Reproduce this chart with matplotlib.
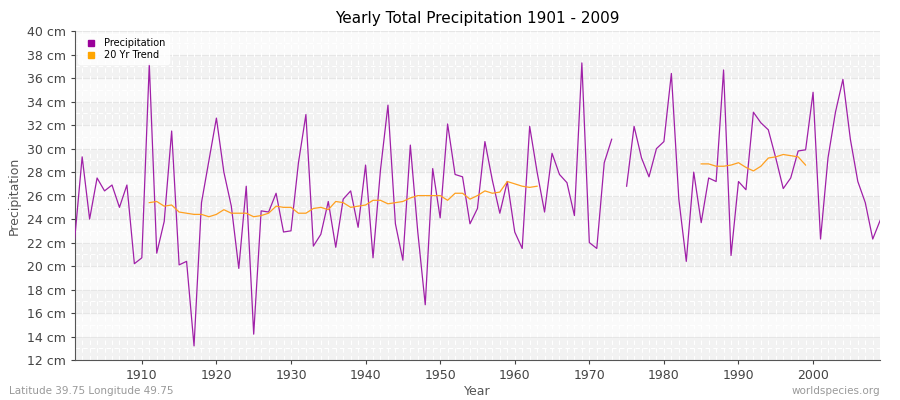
import numpy as np
import matplotlib.pyplot as plt

years = list(range(1901, 2010))
precip = [22.3, 29.3, 24.0, 27.5, 26.4, 26.9, 25.0, 26.9, 20.2, 20.7,
          37.2, 21.1, 23.8, 31.5, 20.1, 20.4, 13.2, 25.4, 29.0, 32.6,
          28.0, 25.1, 19.8, 26.8, 14.2, 24.7, 24.6, 26.2, 22.9, 23.0,
          28.8, 32.9, 21.7, 22.7, 25.5, 21.6, 25.7, 26.4, 23.3, 28.6,
          20.7, 28.2, 33.7, 23.6, 20.5, 30.3, 22.9, 16.7, 28.3, 24.1,
          32.1, 27.8, 27.6, 23.6, 24.9, 30.6, 27.3, 24.5, 27.2, 22.9,
          21.5, 31.9, 28.0, 24.6, 29.6, 27.8, 27.1, 24.3, 37.3, 22.0,
          21.5, 28.8, 30.8, None, 26.8, 31.9, 29.2, 27.6, 30.0, 30.6,
          36.4, 25.7, 20.4, 28.0, 23.7, 27.5, 27.2, 36.7, 20.9, 27.2,
          26.5, 33.1, 32.2, 31.6, 29.2, 26.6, 27.5, 29.8, 29.9, 34.8,
          22.3, 29.2, 33.1, 35.9, 30.8, 27.2, 25.4, 22.3, 23.9]
trend1_years = list(range(1911, 1964))
trend1 = [25.4, 25.5, 25.1, 25.2, 24.6, 24.5, 24.4, 24.4, 24.2, 24.4,
          24.8, 24.5, 24.5, 24.5, 24.2, 24.3, 24.5, 25.1, 25.0, 25.0,
          24.5, 24.5, 24.9, 25.0, 24.8, 25.5, 25.4, 25.0, 25.1, 25.2,
          25.6, 25.6, 25.3, 25.4, 25.5, 25.8, 26.0, 26.0, 26.0, 26.0,
          25.6, 26.2, 26.2, 25.7, 26.0, 26.4, 26.2, 26.3, 27.2, 27.0,
          26.8, 26.7, 26.8]
trend2_years = list(range(1985, 2000))
trend2 = [28.7, 28.7, 28.5, 28.5, 28.6, 28.8, 28.4, 28.1, 28.5, 29.2,
          29.3, 29.5, 29.4, 29.3, 28.6]

p = np.array([np.nan if v is None else v for v in precip])

fig, ax = plt.subplots(figsize=(9, 4), dpi=100)
fig.subplots_adjust(left=0.083, right=0.978, top=0.922, bottom=0.1)
for y0 in range(12, 40, 4):
    ax.axhspan(y0, y0 + 2, color="#f2f2f2", zorder=0)
    ax.axhspan(y0 + 2, y0 + 4, color="#fafafa", zorder=0)
for y in range(12, 41):
    ax.axhline(y, color="#e6e6e6" if y % 2 == 0 else "white", lw=0.8,
               ls="-" if y % 2 == 0 else (0, (4, 3)), zorder=1)
for x in years:
    ax.axvline(x, color="white", lw=0.8, ls=(0, (4, 3)), zorder=1)

ax.plot(years, p, color="#a020a8", lw=0.9, label="Precipitation", zorder=3)
ax.plot(trend1_years, trend1, color="#ffa020", lw=0.9, label="20 Yr Trend", zorder=3)
ax.plot(trend2_years, trend2, color="#ffa020", lw=0.9, zorder=3)

ax.set_xlim(1901, 2009)
ax.set_ylim(12, 40)
ax.set_yticks(range(12, 41, 2))
ax.set_yticklabels([f"{v} cm" for v in range(12, 41, 2)])
ax.set_xticks(range(1910, 2010, 10))
ax.tick_params(colors="#444444", labelsize=9, length=3)
for s in ["top", "right"]:
    ax.spines[s].set_visible(False)
for s in ["left", "bottom"]:
    ax.spines[s].set_color("#555555")
ax.set_title("Yearly Total Precipitation 1901 - 2009", fontsize=11)
ax.set_xlabel("Year", color="#555555", fontsize=9, labelpad=2)
ax.set_ylabel("Precipitation", color="#555555", fontsize=9)

h = [plt.Line2D([], [], marker="s", ls="", color="#990099", markersize=4),
     plt.Line2D([], [], marker="s", ls="", color="#ffa500", markersize=4)]
ax.legend(h, ["Precipitation", "20 Yr Trend"], loc="upper left", fontsize=7,
          frameon=True, facecolor="white", edgecolor="white", handletextpad=0.3,
          borderaxespad=0.3, labelspacing=0.2)

fig.text(0.01, 0.015, "Latitude 39.75 Longitude 49.75", color="#999999", fontsize=7.5)
fig.text(0.978, 0.015, "worldspecies.org", color="#999999", fontsize=7.5, ha="right")
fig.savefig("out.png")
